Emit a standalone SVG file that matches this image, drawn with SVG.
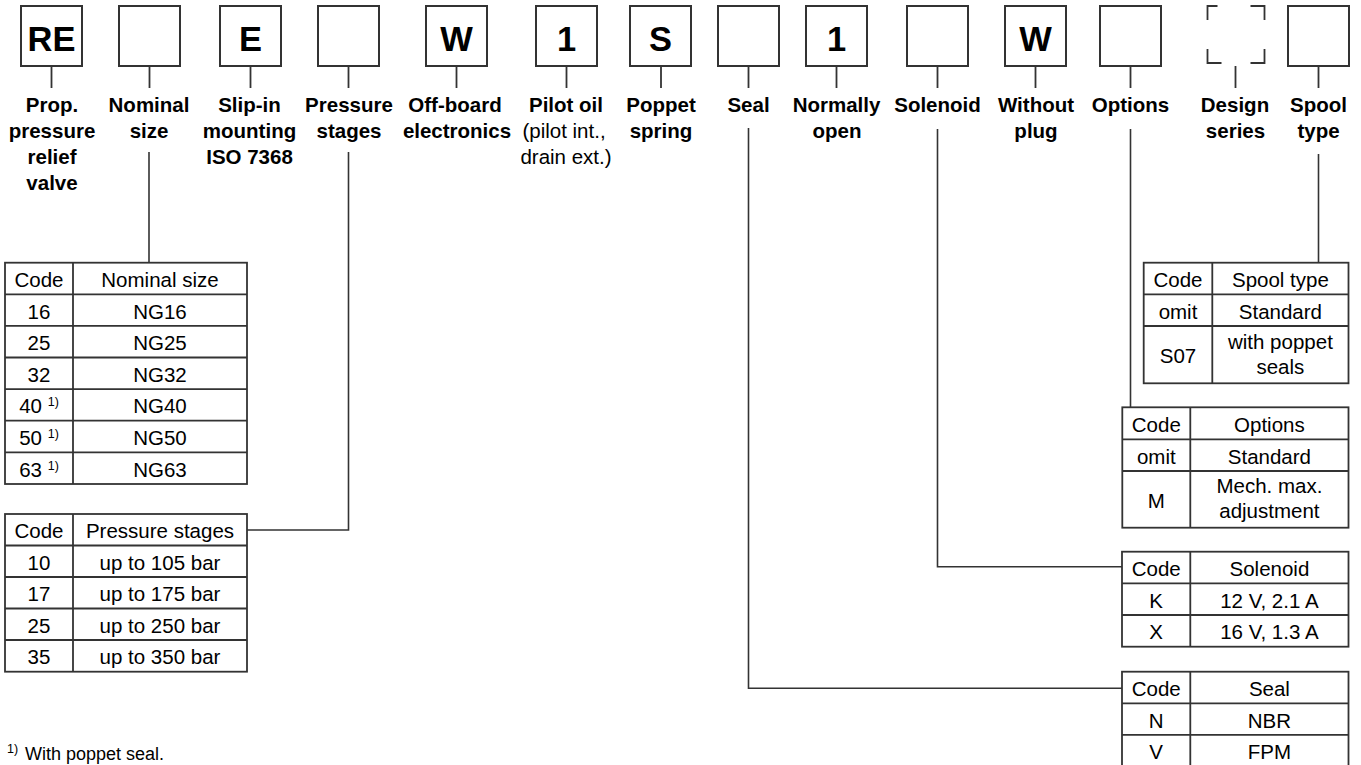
<svg xmlns="http://www.w3.org/2000/svg" width="1361" height="765" viewBox="0 0 1361 765">
<style>
.box{fill:#fff;stroke:#333;stroke-width:2}
.tick{fill:none;stroke:#333;stroke-width:1.8}
.tbl{fill:none;stroke:#333;stroke-width:1.8}
.conn{fill:none;stroke:#333;stroke-width:1.6}
text{font-family:"Liberation Sans",Arial,Helvetica,sans-serif;fill:#000;text-anchor:middle}
.big{font-size:34.5px;font-weight:bold}
.lbl{font-size:20.5px;font-weight:bold}
.sub{font-size:20.5px}
.td{font-size:20.5px}
.sup{font-size:12.5px}
</style>
<rect width="1361" height="765" fill="#fff"/>

<g id="connectors">
<path class="conn" d="M149,152 V262.7"/>
<path class="conn" d="M348.5,152 V530 H247"/>
<path class="conn" d="M748.5,128 V688.3 H1122"/>
<path class="conn" d="M937.5,129 V566.7 H1122"/>
<path class="conn" d="M1130.5,129 V407.3"/>
<path class="conn" d="M1318.5,154 V262.7"/>
</g>

<g id="node-re">
<rect class="box" x="21" y="6" width="61" height="60"/>
<text class="big" x="51.5" y="50.5">RE</text>
<line class="tick" x1="51.5" y1="66" x2="51.5" y2="88"/>
<text class="lbl" x="52"><tspan x="52" y="111.5">Prop.</tspan><tspan x="52" y="137.5">pressure</tspan><tspan x="52" y="163.5">relief</tspan><tspan x="52" y="189.5">valve</tspan></text>
</g>

<g id="node-nominal">
<rect class="box" x="119" y="6" width="61" height="60"/>
<line class="tick" x1="149.5" y1="66" x2="149.5" y2="88"/>
<text class="lbl"><tspan x="149" y="111.5">Nominal</tspan><tspan x="149" y="137.5">size</tspan></text>
</g>

<g id="node-slipin">
<rect class="box" x="220" y="6" width="61" height="60"/>
<text class="big" x="250.5" y="50.5">E</text>
<line class="tick" x1="250.5" y1="66" x2="250.5" y2="88"/>
<text class="lbl"><tspan x="249.5" y="111.5">Slip-in</tspan><tspan x="249.5" y="137.5">mounting</tspan><tspan x="249.5" y="163.5">ISO 7368</tspan></text>
</g>

<g id="node-pressure">
<rect class="box" x="318" y="6" width="61" height="60"/>
<line class="tick" x1="348.5" y1="66" x2="348.5" y2="88"/>
<text class="lbl"><tspan x="349" y="111.5">Pressure</tspan><tspan x="349" y="137.5">stages</tspan></text>
</g>

<g id="node-offboard">
<rect class="box" x="426" y="6" width="61" height="60"/>
<text class="big" x="456.5" y="50.5">W</text>
<line class="tick" x1="456.5" y1="66" x2="456.5" y2="88"/>
<text class="lbl"><tspan x="455" y="111.5">Off-board</tspan><tspan x="457" y="137.5">electronics</tspan></text>
</g>

<g id="node-pilot">
<rect class="box" x="536" y="6" width="61" height="60"/>
<text class="big" x="566.5" y="50.5">1</text>
<line class="tick" x1="566.5" y1="66" x2="566.5" y2="88"/>
<text class="lbl" x="566" y="111.5">Pilot oil</text>
<text class="sub"><tspan x="564" y="137.5">(pilot int.,</tspan><tspan x="566" y="163.5">drain ext.)</tspan></text>
</g>

<g id="node-poppet">
<rect class="box" x="630" y="6" width="61" height="60"/>
<text class="big" x="660.5" y="50.5">S</text>
<line class="tick" x1="661" y1="66" x2="661" y2="88"/>
<text class="lbl"><tspan x="661" y="111.5">Poppet</tspan><tspan x="661" y="137.5">spring</tspan></text>
</g>

<g id="node-seal">
<rect class="box" x="718" y="6" width="61" height="60"/>
<line class="tick" x1="748.5" y1="66" x2="748.5" y2="88"/>
<text class="lbl" x="748.5" y="111.5">Seal</text>
</g>

<g id="node-normally">
<rect class="box" x="806" y="6" width="61" height="60"/>
<text class="big" x="836.5" y="50.5">1</text>
<line class="tick" x1="836.5" y1="66" x2="836.5" y2="88"/>
<text class="lbl"><tspan x="836.5" y="111.5">Normally</tspan><tspan x="837" y="137.5">open</tspan></text>
</g>

<g id="node-solenoid">
<rect class="box" x="907" y="6" width="61" height="60"/>
<line class="tick" x1="937.5" y1="66" x2="937.5" y2="88"/>
<text class="lbl" x="937.5" y="111.5">Solenoid</text>
</g>

<g id="node-plug">
<rect class="box" x="1005" y="6" width="61" height="60"/>
<text class="big" x="1035.5" y="50.5">W</text>
<line class="tick" x1="1035.5" y1="66" x2="1035.5" y2="88"/>
<text class="lbl"><tspan x="1036" y="111.5">Without</tspan><tspan x="1036" y="137.5">plug</tspan></text>
</g>

<g id="node-options">
<rect class="box" x="1100" y="6" width="61" height="60"/>
<line class="tick" x1="1130.5" y1="66" x2="1130.5" y2="88"/>
<text class="lbl" x="1130.5" y="111.5">Options</text>
</g>

<g id="node-design">
<path class="tick" d="M1217.5,6 H1207.5 V20 M1250.5,6 H1264.5 V20 M1207.5,49 V63 H1221.5 M1250.5,63 H1264.5 V49"/>
<line class="tick" x1="1235.5" y1="66" x2="1235.5" y2="88"/>
<text class="lbl"><tspan x="1235" y="111.5">Design</tspan><tspan x="1235.5" y="137.5">series</tspan></text>
</g>

<g id="node-spool">
<rect class="box" x="1288" y="6" width="61" height="60"/>
<line class="tick" x1="1318.5" y1="66" x2="1318.5" y2="88"/>
<text class="lbl"><tspan x="1318.5" y="111.5">Spool</tspan><tspan x="1318.5" y="137.5">type</tspan></text>
</g>

<g id="table-nominal">
<rect class="tbl" x="5" y="262.7" width="242" height="221.3"/>
<path class="tbl" d="M73,262.7 V484 M5,294.3 H247 M5,325.9 H247 M5,357.5 H247 M5,389.1 H247 M5,420.7 H247 M5,452.3 H247"/>
<text class="td" x="39" y="287">Code</text><text class="td" x="160" y="287">Nominal size</text>
<text class="td" x="39" y="318.6">16</text><text class="td" x="160" y="318.6">NG16</text>
<text class="td" x="39" y="350.2">25</text><text class="td" x="160" y="350.2">NG25</text>
<text class="td" x="39" y="381.8">32</text><text class="td" x="160" y="381.8">NG32</text>
<text class="td" x="39" y="413.4">40 <tspan class="sup" dy="-7">1)</tspan></text><text class="td" x="160" y="413.4">NG40</text>
<text class="td" x="39" y="445">50 <tspan class="sup" dy="-7">1)</tspan></text><text class="td" x="160" y="445">NG50</text>
<text class="td" x="39" y="476.6">63 <tspan class="sup" dy="-7">1)</tspan></text><text class="td" x="160" y="476.6">NG63</text>
</g>

<g id="table-pressure">
<rect class="tbl" x="5" y="514" width="242" height="157.7"/>
<path class="tbl" d="M73,514 V671.7 M5,545.5 H247 M5,577 H247 M5,608.5 H247 M5,640 H247"/>
<text class="td" x="39" y="538.2">Code</text><text class="td" x="160" y="538.2">Pressure stages</text>
<text class="td" x="39" y="569.7">10</text><text class="td" x="160" y="569.7">up to 105 bar</text>
<text class="td" x="39" y="601.2">17</text><text class="td" x="160" y="601.2">up to 175 bar</text>
<text class="td" x="39" y="632.7">25</text><text class="td" x="160" y="632.7">up to 250 bar</text>
<text class="td" x="39" y="664.3">35</text><text class="td" x="160" y="664.3">up to 350 bar</text>
</g>

<g id="table-spool">
<rect class="tbl" x="1143.7" y="262.7" width="204.8" height="120.6"/>
<path class="tbl" d="M1212.3,262.7 V383.3 M1143.7,294.3 H1348.5 M1143.7,326 H1348.5"/>
<text class="td" x="1178" y="287">Code</text><text class="td" x="1280.4" y="287">Spool type</text>
<text class="td" x="1178" y="318.7">omit</text><text class="td" x="1280.4" y="318.7">Standard</text>
<text class="td" x="1178" y="363.2">S07</text>
<text class="td"><tspan x="1280.4" y="348.5">with poppet</tspan><tspan x="1280.4" y="373.5">seals</tspan></text>
</g>

<g id="table-options">
<rect class="tbl" x="1122.3" y="407.3" width="226.2" height="120.4"/>
<path class="tbl" d="M1190.3,407.3 V527.7 M1122.3,439.3 H1348.5 M1122.3,471 H1348.5"/>
<text class="td" x="1156.3" y="431.8">Code</text><text class="td" x="1269.4" y="431.8">Options</text>
<text class="td" x="1156.3" y="463.7">omit</text><text class="td" x="1269.4" y="463.7">Standard</text>
<text class="td" x="1156.3" y="507.8">M</text>
<text class="td"><tspan x="1269.4" y="493.3">Mech. max.</tspan><tspan x="1269.4" y="518.3">adjustment</tspan></text>
</g>

<g id="table-solenoid">
<rect class="tbl" x="1122" y="551.7" width="226.5" height="95"/>
<path class="tbl" d="M1190.3,551.7 V646.7 M1122,583.3 H1348.5 M1122,615 H1348.5"/>
<text class="td" x="1156.2" y="576">Code</text><text class="td" x="1269.4" y="576">Solenoid</text>
<text class="td" x="1156.2" y="607.7">K</text><text class="td" x="1269.4" y="607.7">12 V, 2.1 A</text>
<text class="td" x="1156.2" y="639.3">X</text><text class="td" x="1269.4" y="639.3">16 V, 1.3 A</text>
</g>

<g id="table-seal">
<rect class="tbl" x="1122" y="671.7" width="226.5" height="95"/>
<path class="tbl" d="M1190.3,671.7 V766.7 M1122,703.3 H1348.5 M1122,734.9 H1348.5"/>
<text class="td" x="1156.2" y="696">Code</text><text class="td" x="1269.4" y="696">Seal</text>
<text class="td" x="1156.2" y="727.6">N</text><text class="td" x="1269.4" y="727.6">NBR</text>
<text class="td" x="1156.2" y="759.2">V</text><text class="td" x="1269.4" y="759.2">FPM</text>
</g>

<g id="footnote">
<text style="text-anchor:start;font-size:12.5px" x="7" y="753">1)</text>
<text style="text-anchor:start;font-size:18px" x="25" y="760">With poppet seal.</text>
</g>
</svg>
